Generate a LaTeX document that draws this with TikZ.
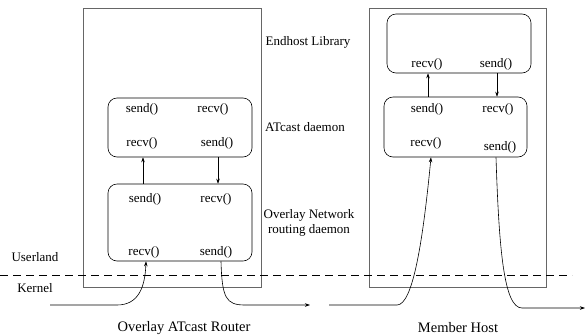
\documentclass[tikz,border=0pt]{standalone}
\usepackage{fontspec}
\setmainfont{Liberation Serif}
\usetikzlibrary{arrows.meta}
\tikzset{
  hostbox/.style={draw=black!60, line width=0.9pt},
  procbox/.style={draw, rounded corners=9pt, line width=0.6pt},
  fn/.style={font=\fontsize{13}{15}\selectfont, inner sep=0pt},
  lbl/.style={font=\fontsize{13}{15}\selectfont, align=center, inner sep=0pt},
  captxt/.style={font=\fontsize{14.5}{17}\selectfont, inner sep=0pt},
  flow/.style={-{Stealth[length=5pt,width=3.5pt]}, line width=0.6pt},
}
\begin{document}
\begin{tikzpicture}[x=1pt,y=-1pt]
	\useasboundingbox (0,0) rectangle (585,335);

	% hosts
	\draw[hostbox] (83,8) rectangle (261,287);
	\draw[hostbox] (369,8) rectangle (546,287);

	% router side
	\node[procbox, minimum width=144pt, minimum height=59pt] (ldmn) at (180,127.5) {};
	\node[procbox, minimum width=144pt, minimum height=77pt] (lovl) at (180,222.5) {};
	\node[fn] (ldsend) at (142,109) {send()};
	\node[fn] (ldrecv) at (213,109) {recv()};
	\node[fn] (ldrecvb) at (142,143) {recv()};
	\node[fn] (ldsendb) at (217,143) {send()};
	\node[fn] (losend) at (145,199) {send()};
	\node[fn] (lorecv) at (216,199) {recv()};
	\node[fn] (lorecvb) at (144,252) {recv()};
	\node[fn] (losendb) at (216,252) {send()};

	% member side
	\node[procbox, minimum width=144pt, minimum height=59pt] (rlib) at (459,43.5) {};
	\node[procbox, minimum width=143pt, minimum height=60pt] (rdmn) at (455.5,127) {};
	\node[fn] (rlrecv) at (427,64) {recv()};
	\node[fn] (rlsend) at (496,64) {send()};
	\node[fn] (rdsend) at (427,109) {send()};
	\node[fn] (rdrecv) at (498,109) {recv()};
	\node[fn] (rdrecvb) at (426,143) {recv()};
	\node[fn] (rdsendb) at (500,147) {send()};

	% labels
	\node[lbl] (endlib) at (308,42) {Endhost Library};
	\node[lbl] (atdmn) at (305,127) {ATcast daemon};
	\node[lbl] (ovlnet) at (309,223) {Overlay Network\\routing daemon};
	\node[lbl] (user) at (35,257) {Userland};
	\node[lbl] (kern) at (35,288) {Kernel};
	\node[captxt] (rtrcap) at (184,328) {Overlay ATcast Router};
	\node[captxt] (memcap) at (458,328) {Member Host};

	\draw[dash pattern=on 8pt off 5pt, line width=0.6pt] (0,275) -- (572,275);

	% calls between layers
	\draw[flow] (lovl.north -| 143,0) -- (ldmn.south -| 143,0);
	\draw[flow] (ldmn.south -| 218,0) -- (lovl.north -| 218,0);
	\draw[flow] (rdmn.north -| 428,0) -- (rlib.south -| 428,0);
	\draw[flow] (rlib.south -| 497,0) -- (rdmn.north -| 497,0);

	% packets in kernel
	\coordinate (kin) at (50,305);
	\coordinate (kmid) at (310,305);
	\coordinate (kmidb) at (329,305);
	\coordinate (kout) at (585,308);
	\draw[flow] (kin) -- (117,305) .. controls (138,305) and (145,288) .. (lovl.south -| 146,0);
	\draw[flow] (lovl.south -| 221,0) .. controls (222,298) and (226,305) .. (245,305) -- (kmid);
	\draw[flow] (kmidb) -- (397,305) .. controls (413,305) and (423,240) .. (rdmn.south -| 431,0);
	\draw[flow] (rdmn.south -| 496,0) .. controls (499,250) and (504,308) .. (522,308) -- (kout);
\end{tikzpicture}
\end{document}
